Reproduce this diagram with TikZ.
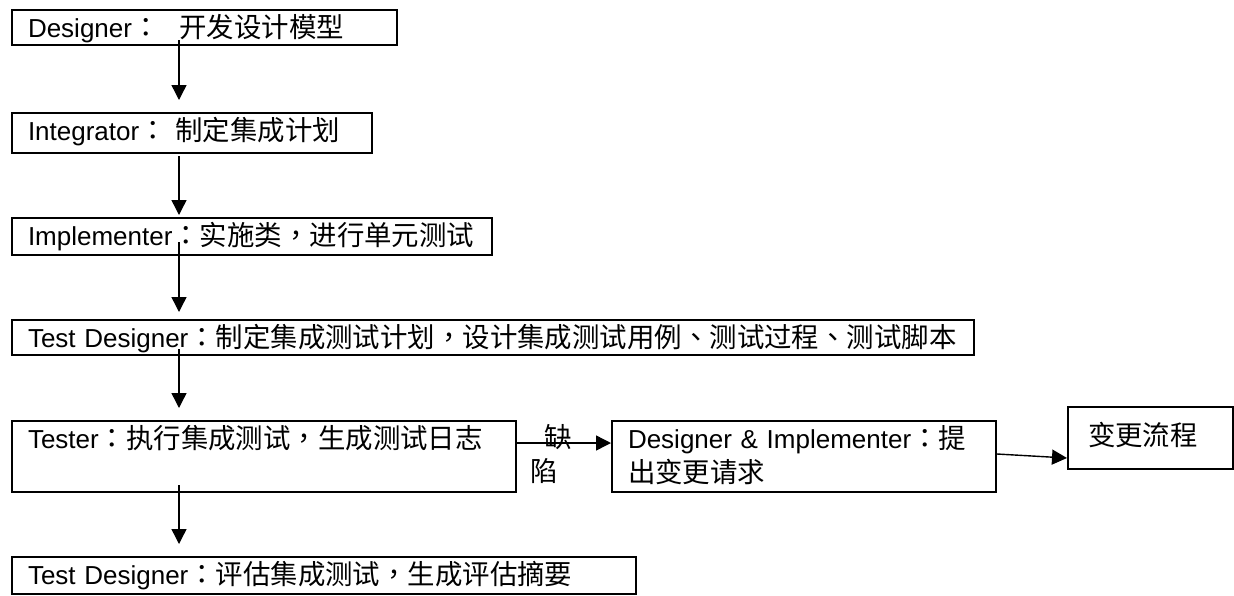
\documentclass[tikz,border=0pt]{standalone}
\usepackage{fontspec}
\setmainfont{Liberation Sans}
\newfontfamily\cjk[Scale=1.055, Script=CJK, Language=Chinese Traditional]{Noto Sans CJK TC}
\usetikzlibrary{arrows.meta,positioning,calc}
\newcommand{\zh}[1]{{\cjk #1}}

\begin{document}
\begin{tikzpicture}[x=0.5pt, y=-0.5pt,
    font=\fontsize{13pt}{17pt}\selectfont,
    box/.style={draw, line width=1pt, anchor=north west, inner xsep=8pt, inner ysep=0pt,
      align=left, text height=13.5pt},
    flow/.style={line width=0.7pt, -{Triangle[width=7.5pt,length=7.5pt]}}]
        \useasboundingbox (0,0) rectangle (1234,595);

        % Main flow (left column)
        \node[box, text width=176.5pt, text depth=4pt] (design) at (11,9)
          {Designer\zh{：}\hspace{10pt}\zh{开发设计模型}};
        \node[box, text width=164pt, text depth=6.5pt] (integ) at (11,112)
          {Integrator\zh{：} \zh{制定集成计划}};
        \node[box, text width=224pt, text depth=5pt] (impl) at (11,217)
          {Implementer\zh{：实施类，进行单元测试}};
        \node[box, text width=465pt, text depth=4pt] (tdplan) at (11,319)
          {Test Designer\zh{：制定集成测试计划，设计集成测试用例、测试过程、测试脚本}};
        \node[box, text width=236pt, text depth=22pt] (tester) at (11,420)
          {Tester\zh{：执行集成测试，生成测试日志}};
        \node[box, text width=296pt, text depth=5pt] (tdeval) at (11,556)
          {Test Designer\zh{：评估集成测试，生成评估摘要}};

        % Change branch
        \node[box, text width=176pt, text depth=22pt] (change) at (611,420)
          {Designer \& Implementer\zh{：提}\\\zh{出变更请求}};
        \node[box, inner xsep=10pt, text width=62.5pt, text height=19pt, text depth=12pt] (proc) at (1067,406)
          {\zh{变更流程}};
        \node[anchor=north west, inner sep=0pt, align=left] (defect) at (530,424)
          {\hspace{7pt}\zh{缺}\\\zh{陷}};

        % Arrows down the spine
        \coordinate (spine) at (179,0);
        \draw[flow] ($(design.south -| spine)+(0,-6)$) -- ($(integ.north -| spine)+(0,-12)$);
        \draw[flow] ($(integ.south -| spine)+(0,2)$) -- ($(impl.north -| spine)+(0,-2)$);
        \draw[flow] ($(impl.south -| spine)+(0,-14)$) -- ($(tdplan.north -| spine)+(0,-7)$);
        \draw[flow] ($(tdplan.south -| spine)+(0,-7)$) -- ($(tester.north -| spine)+(0,-12)$);
        \draw[flow] ($(tester.south -| spine)+(0,-8)$) -- ($(tdeval.north -| spine)+(0,-12)$);

        % Defect and change request
        \draw[flow] ($(tester.north east)+(0,23)$) -- ($(change.north west)+(0,23)$);
        \draw[flow] ($(change.north east)+(0,34)$) -- ($(proc.north west)+(0,52)$);
      \end{tikzpicture}
\end{document}
